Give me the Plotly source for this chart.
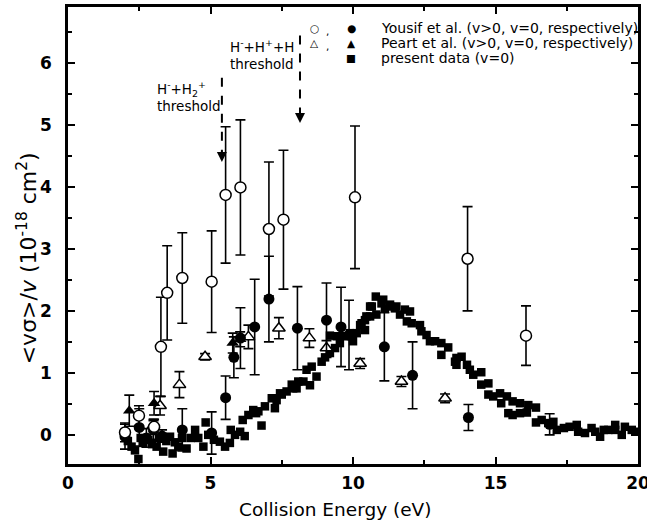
import plotly.graph_objects as go

# ---------------- data ----------------
# Yousif et al. v>0 (open circles)
yo_open_E = [2.0, 2.49, 3.02, 3.26, 3.48, 4.01, 5.04, 5.53, 6.05, 7.05, 7.56, 10.07, 14.02, 16.07]
yo_open_v = [0.04, 0.31, 0.13, 1.42, 2.29, 2.53, 2.47, 3.87, 3.99, 3.32, 3.47, 3.83, 2.84, 1.60]
yo_open_err = [0.15, 0.16, 0.12, 0.80, 0.76, 0.73, 0.82, 1.10, 1.09, 1.08, 1.12, 1.15, 0.84, 0.48]

# Yousif et al. v=0 (filled circles)
yo_fill_E = [2.0, 2.5, 2.75, 3.0, 3.3, 4.01, 5.04, 5.53, 5.82, 6.05, 6.55, 7.05, 8.05, 9.07, 9.58, 9.86, 11.1, 12.09, 14.05, 16.9]
yo_fill_v = [-0.03, 0.12, -0.05, 0.08, -0.02, 0.08, 0.03, 0.60, 1.25, 1.56, 1.74, 2.19, 1.72, 1.85, 1.74, 1.61, 1.42, 0.96, 0.28, 0.17]
yo_fill_err = [0.2, 0.3, 0.15, 0.15, 0.1, 0.34, 0.34, 0.35, 0.33, 0.49, 0.77, 0.69, 0.67, 0.6, 0.64, 0.56, 0.55, 0.54, 0.21, 0.17]

# Peart et al. v>0 (open triangles)
pe_open_E = [3.0, 3.23, 3.91, 4.81, 6.33, 7.4, 8.47, 9.07, 10.25, 11.7, 13.23]
pe_open_v = [0.15, 0.47, 0.81, 1.26, 1.58, 1.72, 1.56, 1.40, 1.15, 0.86, 0.59]
pe_open_err = [0.1, 0.15, 0.21, 0.05, 0.19, 0.17, 0.15, 0.12, 0.08, 0.08, 0.07]

# Peart et al. v=0 (filled triangles)
pe_fill_E = [2.15, 3.02, 5.78, 6.04]
pe_fill_v = [0.39, 0.51, 1.48, 1.54]
pe_fill_err = [0.25, 0.19, 0.16, 0.12]

# present data v=0 (squares)
pr_E = [2.1, 2.23, 2.35, 2.47, 2.55, 2.64, 2.82, 2.95, 3.11, 3.2, 3.34, 3.45, 3.58, 3.67, 3.75, 3.87, 4.0, 4.16,
        4.3, 4.46, 4.57, 4.75, 4.83, 4.92, 5.12, 5.33, 5.51, 5.68, 5.71, 5.86, 6.04, 6.13, 6.2, 6.33, 6.5, 6.6,
        6.68, 6.79, 6.91, 7.15, 7.26, 7.32, 7.44, 7.5, 7.67, 7.85, 7.9, 8.02, 8.08, 8.26, 8.37, 8.49, 8.55, 8.72,
        8.9, 9.02, 9.19, 9.19, 9.37, 9.43, 9.54, 9.72, 9.89, 10.0, 10.13, 10.25, 10.3, 10.42, 10.42, 10.47, 10.6,
        10.6, 10.66, 10.8, 10.82, 11.0, 11.06, 11.12, 11.3, 11.3, 11.47, 11.52, 11.65, 11.82, 11.89, 12.0, 12.06,
        12.35, 12.4, 12.58, 12.7, 12.88, 13.1, 13.1, 13.34, 13.58, 13.63, 13.63, 13.81, 14.0, 14.1, 14.22, 14.5,
        14.5, 14.75, 14.75, 14.92, 15.16, 15.2, 15.4, 15.45, 15.6, 15.6, 15.86, 15.86, 16.1, 16.15, 16.42, 16.42,
        16.62, 16.85, 17.03, 17.15, 17.4, 17.6, 17.85, 17.9, 18.14, 18.37, 18.5, 18.67, 18.8, 18.96, 19.2, 19.2,
        19.43, 19.54, 19.78, 19.93]
pr_v = [-0.1, -0.19, -0.25, -0.39, -0.05, -0.13, -0.08, -0.15, -0.19, -0.05, -0.27, -0.1, -0.03, -0.30, -0.12, -0.19,
        -0.05, -0.22, -0.05, 0.08, -0.05, -0.19, 0.20, 0.0, -0.08, -0.11, -0.19, -0.13, 0.08, 0.0, 0.05, 0.24, -0.02,
        0.32, 0.40, 0.35, 0.38, 0.15, 0.46, 0.59, 0.43, 0.56, 0.67, 0.65, 0.70, 0.81, 0.75, 0.75, 0.86, 0.86, 1.05,
        0.80, 1.10, 0.94, 1.18, 1.25, 1.32, 1.60, 1.40, 1.59, 1.48, 1.59, 1.64, 1.51, 1.64, 1.77, 1.80, 1.85, 1.69,
        1.91, 1.91, 2.07, 2.07, 2.23, 1.94, 2.12, 2.18, 2.04, 2.07, 2.10, 2.04, 2.07, 1.94, 2.02, 1.83, 1.99, 1.80,
        1.77, 1.67, 1.61, 1.51, 1.51, 1.48, 1.29, 1.41, 1.18, 1.24, 1.13, 1.26, 1.13, 1.05, 0.97, 1.01, 0.81, 0.83,
        0.65, 0.62, 0.67, 0.51, 0.62, 0.35, 0.32, 0.54, 0.51, 0.35, 0.36, 0.48, 0.44, 0.20, 0.24, 0.19, 0.21, 0.08,
        0.11, 0.13, 0.16, 0.05, 0.03, 0.11, 0.05, -0.03, 0.08, 0.08, 0.16, 0.08, 0.0, 0.13, 0.08, 0.05]

x_ticks = [0, 5, 10, 15, 20]
y_ticks = [0, 1, 2, 3, 4, 5, 6]

# thresholds (energy, top of dashed line, arrow tip)
thr_E = [5.4, 8.14]
thr_top = [5.76, 6.44]
thr_tip = [4.40, 5.03]

# ---------------- figure ----------------
fig = go.Figure()

err_style = dict(type="data", color="black", thickness=1.6, width=5)

fig.add_trace(go.Scatter(x=pr_E, y=pr_v, mode="markers",
                         marker=dict(symbol="square", size=8.5, color="black", line=dict(width=0))))
fig.add_trace(go.Scatter(x=pe_open_E, y=pe_open_v, mode="markers",
                         error_y=dict(array=pe_open_err, **err_style),
                         marker=dict(symbol="triangle-up", size=11, color="white", line=dict(color="black", width=1.5))))
fig.add_trace(go.Scatter(x=pe_fill_E, y=pe_fill_v, mode="markers",
                         error_y=dict(array=pe_fill_err, **err_style),
                         marker=dict(symbol="triangle-up", size=11, color="black", line=dict(width=0))))
fig.add_trace(go.Scatter(x=yo_fill_E, y=yo_fill_v, mode="markers",
                         error_y=dict(array=yo_fill_err, **err_style),
                         marker=dict(symbol="circle", size=11, color="black", line=dict(width=0))))
fig.add_trace(go.Scatter(x=yo_open_E, y=yo_open_v, mode="markers",
                         error_y=dict(array=yo_open_err, **err_style),
                         marker=dict(symbol="circle", size=11, color="white", line=dict(color="black", width=1.5))))

# threshold dashed arrows
for e, t, b in zip(thr_E, thr_top, thr_tip):
    fig.add_shape(type="line", x0=e, x1=e, y0=t, y1=b + 0.12, xref="x", yref="y",
                  line=dict(color="black", width=2, dash="dash"))
    fig.add_annotation(x=e, y=b, ax=0, ay=-12, xref="x", yref="y", text="", showarrow=True,
                       arrowhead=2, arrowsize=1, arrowwidth=2, arrowcolor="black")

tfont = dict(family="DejaVu Sans", size=13.5, color="black")
fig.add_annotation(x=0.152, y=0.805, xref="paper", yref="paper", xanchor="left", yanchor="middle", showarrow=False,
                   text="H<sup>-</sup>+H<sub>2</sub><sup>+</sup><br>threshold", align="left", font=tfont)
fig.add_annotation(x=0.28, y=0.895, xref="paper", yref="paper", xanchor="left", yanchor="middle", showarrow=False,
                   text="H<sup>-</sup>+H<sup>+</sup>+H<br>threshold", align="left", font=tfont)

# legend (manual)
leg_rows = [("○", "●", "Yousif et al. (v>0, v=0, respectively)"),
            ("△", "▲", "Peart et al. (v>0, v=0, respectively)"),
            ("", "■", "present data (v=0)")]
leg_y = [0.954, 0.921, 0.889]
lfont = dict(family="DejaVu Sans", size=14, color="black")
sfont = dict(family="DejaVu Sans", size=10.5, color="black")
for (o, f, lab), yy in zip(leg_rows, leg_y):
    if o:
        fig.add_annotation(x=0.4316, y=yy, xref="paper", yref="paper", text=o, showarrow=False,
                           xanchor="center", yanchor="middle", font=sfont)
        fig.add_annotation(x=0.456, y=yy - 0.006, xref="paper", yref="paper", text=",", showarrow=False,
                           xanchor="center", yanchor="middle", font=sfont)
    fig.add_annotation(x=0.4965, y=yy, xref="paper", yref="paper", text=f, showarrow=False,
                       xanchor="center", yanchor="middle", font=sfont)
    fig.add_annotation(x=0.545, y=yy, xref="paper", yref="paper", text=lab, showarrow=False,
                       xanchor="left", yanchor="middle", font=lfont)

# axis titles
fig.add_annotation(x=0.468, y=-0.099, xref="paper", yref="paper", showarrow=False,
                   text="Collision Energy (eV)", xanchor="center", yanchor="middle",
                   font=dict(family="DejaVu Sans", size=18.5, color="black"))
fig.add_annotation(x=-0.072, y=0.45, xref="paper", yref="paper", showarrow=False, textangle=-90,
                   text="<vσ>/<i>v</i> (10<sup>-18</sup> cm<sup>2</sup>)", xanchor="center", yanchor="middle",
                   font=dict(family="DejaVu Sans", size=22, color="black"))

axis_common = dict(showline=True, linecolor="black", linewidth=2.5, mirror="ticks", ticks="inside",
                   tickcolor="black", tickwidth=2, ticklen=7, showgrid=False, zeroline=False, automargin=False,
                   ticklabeloverflow="allow",
                   tickfont=dict(family="DejaVu Sans", size=17, color="black", weight="bold"))

fig.update_xaxes(range=[0, 20], tickvals=x_ticks, ticktext=[str(t) for t in x_ticks], ticklabelstandoff=2,
                 minor=dict(ticks="inside", dtick=2.5, tick0=0, ticklen=4, tickwidth=2, tickcolor="black"),
                 **axis_common)
fig.update_yaxes(range=[-0.47, 6.9], tickvals=y_ticks, ticktext=[str(t) for t in y_ticks], ticklabelstandoff=10,
                 minor=dict(ticks="inside", dtick=0.5, tick0=0, ticklen=4, tickwidth=2, tickcolor="black"),
                 **axis_common)

fig.update_layout(width=647, height=520, margin=dict(l=68, r=9, t=7, b=56), showlegend=False,
                  plot_bgcolor="white", paper_bgcolor="white")

fig.write_html("out.html")
